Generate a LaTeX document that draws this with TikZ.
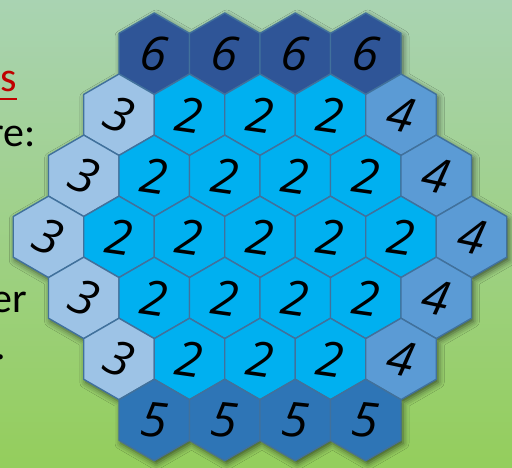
\documentclass[tikz,border=0pt]{standalone}
\usepackage{fontspec}
\setmainfont{Carlito}
\newfontfamily\digitfont{Open Sans}
\usetikzlibrary{shadows.blur}
\definecolor{bgtop}{RGB}{169,211,178}
\definecolor{bgbot}{RGB}{148,206,92}
\definecolor{c6}{RGB}{47,85,151}
\definecolor{c2}{RGB}{0,176,240}
\definecolor{c3}{RGB}{157,195,230}
\definecolor{c4}{RGB}{91,155,213}
\definecolor{c5}{RGB}{46,117,182}
\definecolor{hexline}{RGB}{65,113,156}
\definecolor{sred}{RGB}{192,0,0}
\def\R{40.7}
\tikzset{
  hexcell/.style={draw=hexline, line width=1.4pt, line join=round},
  digit/.style={font=\digitfont\itshape\fontsize{48}{48}\selectfont, inner sep=0pt, text=black},
  bodytext/.style={font=\fontsize{42}{42}\selectfont, inner sep=0pt, anchor=base east},
}
\begin{document}
\begin{tikzpicture}[x=1pt,y=1pt]
\useasboundingbox (0,0) rectangle (512,468);
\clip (0,0) rectangle (512,468);
\shade[top color=bgtop, bottom color=bgbot] (0,0) rectangle (512,468);
% text at left (cut off)
\node[bodytext, text=sred] (t1) at (17,376) {s};
\draw[sred, line width=2pt] ([yshift=-7pt]t1.base west) -- ([yshift=-7pt]t1.base east);
\node[bodytext] (t2) at (36,321) {re:};
\node[bodytext] (t3) at (27,155) {er};
\node[bodytext] (t4) at (6,108) {.};
% shadow of the board
\path[blur shadow={shadow xshift=2pt,shadow yshift=-3pt,shadow blur radius=6pt,shadow opacity=60}]
  \foreach \i [evaluate=\i as \m using {int(6-abs(\i-3))}, evaluate=\i as \Y using {414.3-\i*61.05}] in {0,...,6} {
    \foreach \k [evaluate=\k as \X using {260+(\k-\m/2)*70.5}] in {0,...,\m} {
      (\X,\Y) +(90:\R) -- +(150:\R) -- +(210:\R) -- +(270:\R) -- +(330:\R) -- +(30:\R) -- cycle
    }
  };
% cells
\foreach \i/\row in {0/{6,6,6,6},1/{3,2,2,2,4},2/{3,2,2,2,2,4},3/{3,2,2,2,2,2,4},4/{3,2,2,2,2,4},5/{3,2,2,2,4},6/{5,5,5,5}} {
  \pgfmathsetmacro\m{6-abs(\i-3)}
  \pgfmathsetmacro\Y{414.3-\i*61.05}
  \foreach \d [count=\k from 0] in \row {
    \pgfmathsetmacro\X{260+(\k-\m/2)*70.5}
    \pgfmathsetmacro\rot{{0,0,-8,-22,-12,-6,-8}[\d]}
    \draw[hexcell, fill=c\d] (\X,\Y) +(90:\R) -- +(150:\R) -- +(210:\R) -- +(270:\R) -- +(330:\R) -- +(30:\R) -- cycle;
    \node[digit, rotate=\rot] (h\i-\k) at (\X,\Y) {\d};
  }
}
\end{tikzpicture}
\end{document}
